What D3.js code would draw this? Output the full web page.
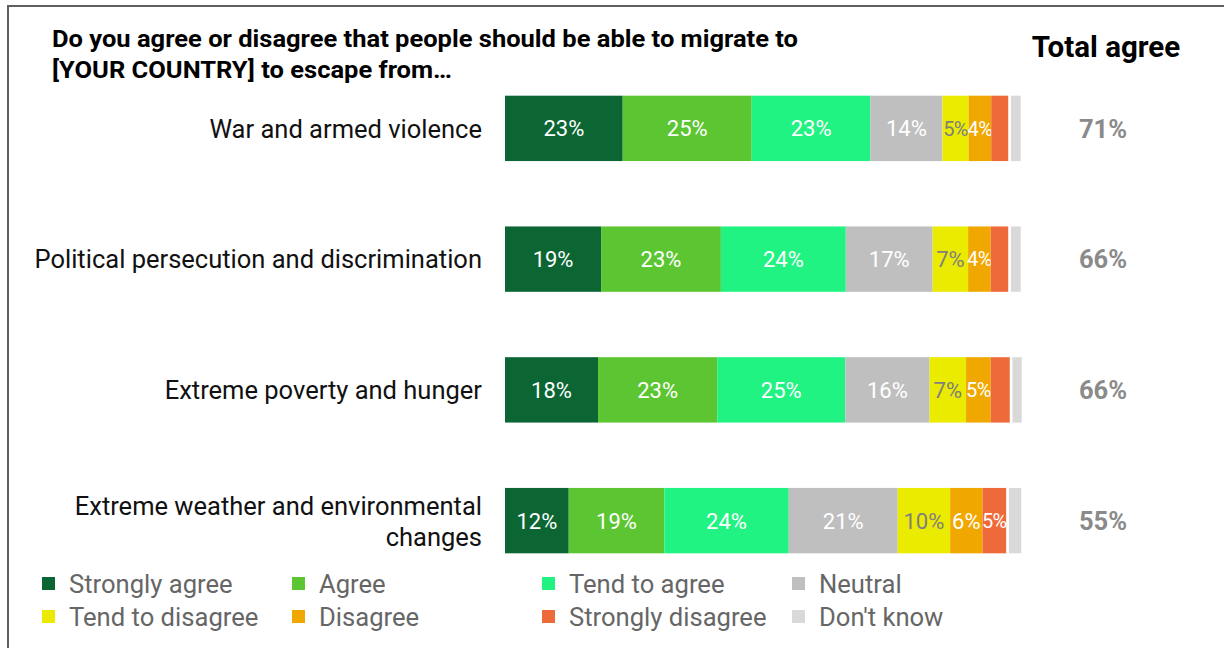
<!DOCTYPE html>
<html><head><meta charset="utf-8">
<script src="https://cdn.jsdelivr.net/npm/d3@7"></script>
<style>body{margin:0;background:#fff}svg{display:block}text{font-family:Roboto,"Noto Sans",sans-serif}</style>
</head><body><svg id="c" width="1224" height="648"></svg>
<script>
const categories = ["War and armed violence","Political persecution and discrimination","Extreme poverty and hunger","Extreme weather and environmental changes"];
const seriesNames = ["Strongly agree","Agree","Tend to agree","Neutral","Tend to disagree","Disagree","Strongly disagree","Don't know"];
const stronglyAgree   = [22.9, 18.7, 18.1, 12.4];
const agree           = [25.1, 23.3, 23.2, 18.6];
const tendToAgree     = [23.1, 24.3, 24.9, 24.2];
const neutral         = [14.0, 16.9, 16.4, 21.2];
const tendToDisagree  = [5.1, 6.9, 7.1, 10.2];
const disagree        = [4.4, 4.4, 4.8, 6.3];
const stronglyDisagree= [3.3, 3.4, 3.7, 4.6];
const dontKnow        = [1.9, 1.9, 1.8, 2.4];
const totalAgree      = ["71%","66%","66%","55%"];
const seriesValues = [stronglyAgree, agree, tendToAgree, neutral, tendToDisagree, disagree, stronglyDisagree, dontKnow];
const colors = ["#0b6634","#5cc632","#21f383","#bfbfbf","#ebeb00","#f0a800","#ee6a3a","#d9d9d9"];
const labelColors = ["#fff","#fff","#fff","#fff","#7f7f7f","#fff","#fff","#fff"];

const svg = d3.select("#c");
// frame
svg.append("line").attr("x1",8).attr("x2",1224).attr("y1",6).attr("y2",6).attr("stroke","#606060").attr("stroke-width",2);
svg.append("line").attr("x1",8).attr("x2",8).attr("y1",5).attr("y2",648).attr("stroke","#606060").attr("stroke-width",2);

// title
const t = svg.append("text").attr("font-weight","bold").attr("font-size",24).attr("fill","#000");
t.append("tspan").attr("x",52).attr("y",47).attr("textLength",746).attr("lengthAdjust","spacingAndGlyphs").text("Do you agree or disagree that people should be able to migrate to");
t.append("tspan").attr("x",52).attr("y",78).attr("textLength",400).attr("lengthAdjust","spacingAndGlyphs").text("[YOUR COUNTRY] to escape from…");
svg.append("text").attr("x",1106).attr("y",57).attr("text-anchor","middle").attr("font-weight","bold").attr("font-size",29.5).attr("fill","#000").text("Total agree");

const x = d3.scaleLinear().domain([0,100]).range([505,1019]);
const y = d3.scaleBand().domain(categories).range([63,586]).paddingInner(0.5).paddingOuter(0.25);

const data = categories.map((c,i)=>{ const o={cat:c}; seriesNames.forEach((s,j)=>o[s]=seriesValues[j][i]); return o;});
const stack = d3.stack().keys(seriesNames)(data);

stack.forEach((layer,j)=>{
  const g = svg.append("g");
  layer.forEach((d,i)=>{
    const gap = j===seriesNames.length-1 ? 2.7 : 0;
    const x0 = x(d[0])+gap, w = x(d[1])-x(d[0]);
    g.append("rect").attr("x",x0).attr("y",y(categories[i])).attr("width",w).attr("height",y.bandwidth()).attr("fill",colors[j]);
    const v = d[1]-d[0];
    if (Math.round(v) >= 4 && j < 7 && !(j===6 && v<4.5)) {
      const fs = w < 30 ? 20 : 22;
      g.append("text").attr("x",x0+w/2).attr("y",y(categories[i])+y.bandwidth()/2).attr("dy","0.36em")
        .attr("text-anchor","middle").attr("font-size",fs).attr("letter-spacing", w < 30 ? -0.6 : 0).attr("fill",labelColors[j]).text(Math.round(v)+"%");
    }
  });
});

// category labels
categories.forEach((c,i)=>{
  const cy = y(c)+y.bandwidth()/2;
  const txt = svg.append("text").attr("x",482).attr("text-anchor","end").attr("font-size",25.5).attr("fill","#111");
  if (i===3) {
    txt.append("tspan").attr("x",482).attr("y",cy-6).text("Extreme weather and environmental");
    txt.append("tspan").attr("x",482).attr("y",cy+25).text("changes");
  } else {
    txt.attr("y",cy).attr("dy","0.36em").text(c);
  }
  svg.append("text").attr("x",1103).attr("y",cy).attr("dy","0.36em").attr("text-anchor","middle")
    .attr("font-weight","bold").attr("font-size",25.5).attr("fill","#8a8a8a").text(totalAgree[i]);
});

// legend
seriesNames.forEach((s,j)=>{
  const col = j%4, row = Math.floor(j/4);
  const lx = 42 + col*250, ly = 584 + row*33;
  svg.append("rect").attr("x",lx).attr("y",ly-7).attr("width",13).attr("height",13).attr("fill",colors[j]);
  svg.append("text").attr("x",lx+27).attr("y",ly).attr("dy","0.36em").attr("font-size",25.6).attr("fill","#666").text(s);
});
</script></body></html>
